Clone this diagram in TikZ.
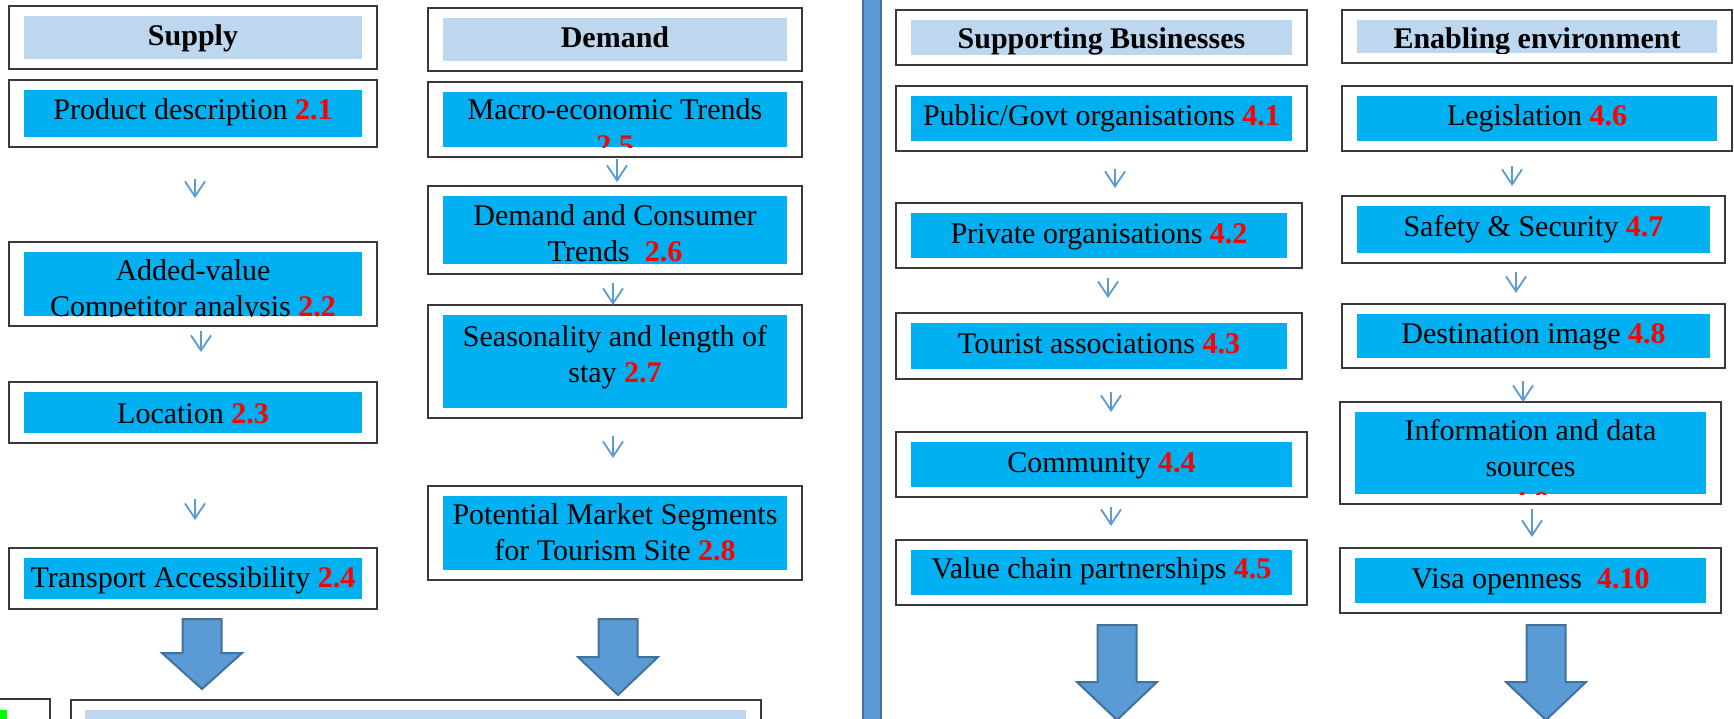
\documentclass[tikz,border=0pt]{standalone}
\usepackage{fontspec}
\setmainfont{Liberation Serif}
\usetikzlibrary{arrows.meta,fit}

\definecolor{cellblue}{HTML}{00B0F0}
\definecolor{headblue}{HTML}{BDD7EE}
\definecolor{arrowfill}{HTML}{5B9BD5}
\definecolor{arrowedge}{HTML}{41719C}
\definecolor{boxedge}{HTML}{3A3A3A}
\definecolor{secred}{HTML}{FF0000}
\definecolor{markgreen}{HTML}{00FF00}

\newcommand\secno[1]{\textcolor{secred}{\textbf{#1}}}

\tikzset{
  outerbox/.style={draw=boxedge, line width=0.7pt, fill=white, inner sep=0pt},
  cell/.style={fill=cellblue, draw=none, inner sep=0pt},
  head/.style={fill=headblue, draw=none, inner sep=0pt},
  celltext/.style={inner sep=0pt, align=flush center, font=\fontsize{15}{18}\selectfont},
  headtext/.style={inner sep=0pt, align=flush center, font=\fontsize{15}{18}\selectfont\bfseries},
  flow/.style={draw=arrowfill, line width=0.9pt, -{Straight Barb[length=7.5pt,width=10pt]}},
  blockarrow/.style={fill=arrowfill, draw=arrowedge, line width=1pt, line join=miter},
}

% framed box with an inset coloured panel; the text is cut off at the panel edge
% #1 name, #2-#5 frame corners, #6 panel style, #7 text style, #8 first baseline, #9 text
\newcommand\infobox[9]{%
  \node[outerbox, fit={(#2,#3) (#4,#5)}] (#1) {};
  \node[#6, fit={(#2+15,#3+10) (#4-15,#5-10)}] (#1-panel) {};
  \pgfmathsetmacro\boxtw{(#4-#2-30)*0.5}%
  \begin{scope}
    \clip (#2+15,#3+10) rectangle (#4-15,#5-10);
    \node[#7, text width=\boxtw pt, anchor=base] (#1-text) at ({(#2+#4)/2},#8) {#9};
  \end{scope}
}

% short step arrow between two boxes of a column
\newcommand\flowarrow[4]{%
  \coordinate (#1-s) at (#2,#3);
  \coordinate (#1-e) at (#2,#4);
  \draw[flow] (#1-s) -- (#1-e);
}

% block arrow: #1 centre x, #2 top, #3 head start, #4 tip
\newcommand\downblock[4]{%
  \draw[blockarrow] (#1-19.5,#2) -- (#1+19.5,#2) -- (#1+19.5,#3) -- (#1+40,#3)
    -- (#1,#4) -- (#1-40,#3) -- (#1-19.5,#3) -- cycle;
}

\begin{document}
\begin{tikzpicture}[x=0.5pt,y=-0.5pt]
\useasboundingbox (0,0) rectangle (1734,718);
\fill[white] (0,0) rectangle (1734,718);

% ---------- Supply ----------
\infobox{suph}{9}{6}{377}{69}{head}{headtext}{45}{Supply}
\infobox{s21}{9}{80}{377}{147}{cell}{celltext}{119}{Product description \secno{2.1}}
\infobox{s22}{9}{242}{377}{326}{cell}{celltext}{280}{Added-value\\Competitor analysis \secno{2.2}}
\infobox{s23}{9}{382}{377}{443}{cell}{celltext}{423}{Location \secno{2.3}}
\infobox{s24}{9}{548}{377}{609}{cell}{celltext}{587}{Transport Accessibility \secno{2.4}}
\flowarrow{fa1}{195}{179}{198}
\flowarrow{fa2}{201}{331}{352}
\flowarrow{fa3}{195}{499}{520}

% ---------- Demand ----------
\infobox{demh}{428}{8}{802}{71}{head}{headtext}{47}{Demand}
\infobox{d25}{428}{82}{802}{157}{cell}{celltext}{119}{Macro-economic Trends\\\secno{2.5}}
\infobox{d26}{428}{186}{802}{274}{cell}{celltext}{225}{Demand and Consumer\\Trends\enspace \secno{2.6}}
\infobox{d27}{428}{305}{802}{418}{cell}{celltext}{346}{Seasonality and length of\\stay \secno{2.7}}
\infobox{d28}{428}{486}{802}{580}{cell}{celltext}{524}{Potential Market Segments\\for Tourism Site \secno{2.8}}
\flowarrow{fb1}{617}{159}{182}
\flowarrow{fb2}{613}{283}{305}
\flowarrow{fb3}{613}{436}{458}

% ---------- Supporting businesses ----------
\infobox{sbh}{896}{10}{1307}{65}{head}{headtext}{48}{Supporting Businesses}
\infobox{b41}{896}{86}{1307}{151}{cell}{celltext}{125}{Public/Govt organisations \secno{4.1}}
\infobox{b42}{896}{203}{1302}{268}{cell}{celltext}{243}{Private organisations \secno{4.2}}
\infobox{b43}{896}{313}{1302}{379}{cell}{celltext}{353}{Tourist associations \secno{4.3}}
\infobox{b44}{896}{432}{1307}{497}{cell}{celltext}{472}{Community \secno{4.4}}
\infobox{b45}{896}{540}{1307}{605}{cell}{celltext}{578}{Value chain partnerships \secno{4.5}}
\flowarrow{fc1}{1115}{169}{188}
\flowarrow{fc2}{1108}{278}{298}
\flowarrow{fc3}{1111}{392}{412}
\flowarrow{fc4}{1111}{507}{526}

% ---------- Enabling environment ----------
\infobox{enh}{1342}{10}{1732}{63}{head}{headtext}{48}{Enabling environment}
\infobox{e46}{1342}{86}{1732}{151}{cell}{celltext}{125}{Legislation \secno{4.6}}
\infobox{e47}{1342}{196}{1725}{263}{cell}{celltext}{236}{Safety \& Security \secno{4.7}}
\infobox{e48}{1342}{304}{1725}{368}{cell}{celltext}{343}{Destination image \secno{4.8}}
\infobox{e49}{1340}{402}{1721}{504}{cell}{celltext}{440}{Information and data\\sources\\\secno{4.9}}
\infobox{e410}{1340}{548}{1721}{613}{cell}{celltext}{588}{Visa openness\enspace \secno{4.10}}
\flowarrow{fd1}{1512}{166}{186}
\flowarrow{fd2}{1516}{272}{293}
\flowarrow{fd3}{1523}{381}{402}
\flowarrow{fd4}{1532}{509}{537}

% ---------- block arrows ----------
\downblock{202}{619}{653}{689}
\downblock{618}{619}{657}{695}
\downblock{1117}{625}{682}{720}
\downblock{1546}{625}{682}{720}

% ---------- separator bar ----------
\draw[fill=arrowfill, draw=arrowedge, line width=1pt] (863,-10) rectangle (881,730);

% ---------- lower row ----------
\draw[draw=boxedge, line width=0.7pt] (-10,699) rectangle (50,730);
\fill[markgreen] (0,710) rectangle (7,730);
\draw[draw=boxedge, line width=0.7pt, fill=white] (71,700) rectangle (761,730);
\fill[headblue] (85,710) rectangle (746,730);
\end{tikzpicture}
\end{document}
